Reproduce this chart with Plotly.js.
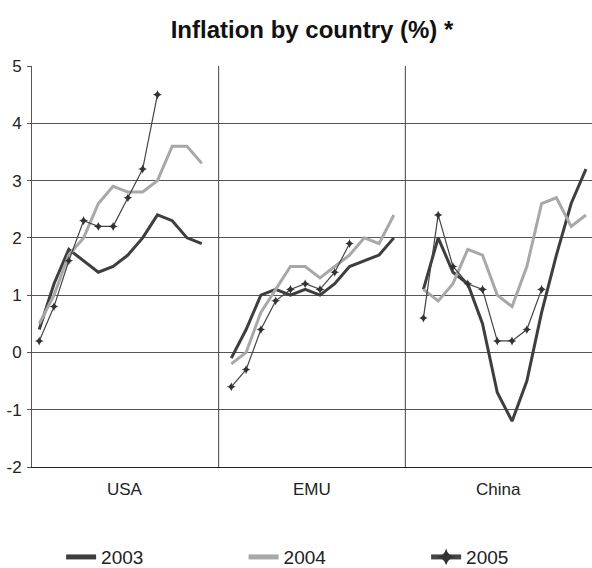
<!DOCTYPE html>
<html>
<head>
<meta charset="utf-8">
<script src="https://cdn.plot.ly/plotly-3.0.1.min.js"></script>
<style>html,body{margin:0;padding:0;background:#fff;}#chart{width:592px;height:568px;}</style>
</head>
<body>
<div id="chart"></div>
<script>
// ---- data ----
const countries = ['USA', 'EMU', 'China'];
const years = ['2003', '2004', '2005'];
const usa2003 = [0.4, 1.2, 1.8, 1.6, 1.4, 1.5, 1.7, 2.0, 2.4, 2.3, 2.0, 1.9];
const usa2004 = [0.5, 1.0, 1.7, 2.0, 2.6, 2.9, 2.8, 2.8, 3.0, 3.6, 3.6, 3.3];
const usa2005 = [0.2, 0.8, 1.6, 2.3, 2.2, 2.2, 2.7, 3.2, 4.5];
const emu2003 = [-0.1, 0.4, 1.0, 1.1, 1.0, 1.1, 1.0, 1.2, 1.5, 1.6, 1.7, 2.0];
const emu2004 = [-0.2, 0.0, 0.7, 1.1, 1.5, 1.5, 1.3, 1.5, 1.7, 2.0, 1.9, 2.4];
const emu2005 = [-0.6, -0.3, 0.4, 0.9, 1.1, 1.2, 1.1, 1.4, 1.9];
const china2003 = [1.1, 2.0, 1.4, 1.2, 0.5, -0.7, -1.2, -0.5, 0.7, 1.7, 2.6, 3.2];
const china2004 = [1.1, 0.9, 1.2, 1.8, 1.7, 1.0, 0.8, 1.5, 2.6, 2.7, 2.2, 2.4];
const china2005 = [0.6, 2.4, 1.5, 1.2, 1.1, 0.2, 0.2, 0.4, 1.1];
const yTicks = [-2, -1, 0, 1, 2, 3, 4, 5];
const yTickLabels = ['-2', '-1', '0', '1', '2', '3', '4', '5'];

const seriesByYear = {
  '2003': [usa2003, emu2003, china2003],
  '2004': [usa2004, emu2004, china2004],
  '2005': [usa2005, emu2005, china2005]
};
const slot = 13; // 12 months + 1 gap per country panel

function build(year) {
  const xs = [], ys = [];
  seriesByYear[year].forEach((arr, p) => {
    arr.forEach((v, m) => { xs.push(p * slot + m); ys.push(v); });
    xs.push(null); ys.push(null);
  });
  return {x: xs, y: ys};
}

const FONT = 'Liberation Sans, Arial, sans-serif';
const styles = {
  '2003': {mode: 'lines', line: {color: '#3e3e3e', width: 3}},
  '2004': {mode: 'lines', line: {color: '#a8a8a8', width: 3}},
  '2005': {mode: 'lines+markers', line: {color: '#444444', width: 1.2},
           marker: {symbol: 'star-diamond', size: 6.5, color: '#333333', line: {width: 0}}}
};

const traces = years.map(yr => Object.assign({type: 'scatter', name: yr, connectgaps: false,
  hoverinfo: 'skip'}, build(yr), styles[yr]));

const annotations = countries.map((c, i) => ({
  text: c, xref: 'paper', yref: 'paper', x: (i + 0.5) / countries.length, y: 0,
  yanchor: 'top', xanchor: 'center', yshift: -11, showarrow: false,
  font: {family: FONT, size: 17, color: '#222'}
}));

const shapes = [1, 2].map(k => ({
  type: 'line', xref: 'paper', yref: 'paper', x0: k / 3, x1: k / 3, y0: 0, y1: 1,
  line: {color: '#444', width: 1}
}));

const layout = {
  width: 592, height: 568,
  margin: {l: 32, r: 0, t: 66, b: 101, autoexpand: false},
  paper_bgcolor: '#fff', plot_bgcolor: '#fff',
  title: {text: 'Inflation by country (%) *', x: 0.5, xref: 'paper', y: 0.948, yanchor: 'middle',
          font: {family: FONT, size: 24, weight: 'bold', color: '#111'}},
  xaxis: {range: [-0.49, 37.41], showgrid: false, zeroline: false, showticklabels: false,
          showline: true, linecolor: '#222', linewidth: 1, ticks: '', fixedrange: true},
  yaxis: {range: [-2, 5], tickvals: yTicks, ticktext: yTickLabels, showgrid: true,
          gridcolor: '#555', gridwidth: 1,
          zeroline: false, showline: true, linecolor: '#555', linewidth: 1,
          ticks: 'outside', ticklen: 4, tickcolor: '#555', ticklabelstandoff: 2,
          tickfont: {family: FONT, size: 17, color: '#222'}, fixedrange: true},
  showlegend: true,
  legend: {orientation: 'h', x: 0.052, xanchor: 'left', y: -0.272, yanchor: 'bottom',
           entrywidth: 137.5, entrywidthmode: 'pixels', itemsizing: 'constant',
           font: {family: FONT, size: 19, color: '#222'}, bgcolor: 'rgba(0,0,0,0)'},
  annotations: annotations,
  shapes: shapes
};

Plotly.newPlot('chart', traces, layout, {displayModeBar: false, staticPlot: true});
</script>
</body>
</html>
